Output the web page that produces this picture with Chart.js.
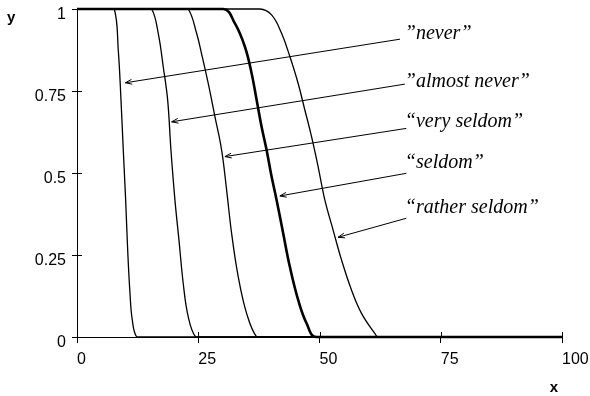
<!DOCTYPE html>
<html>
<head>
<meta charset="utf-8">
<script src="https://cdn.jsdelivr.net/npm/chart.js@4.4.1/dist/chart.umd.min.js"></script>
<style>
  html, body { margin: 0; padding: 0; background: #fff; }
  #wrap { width: 590px; height: 396px; position: relative; }
</style>
</head>
<body>
<div id="wrap"><canvas id="chart"></canvas></div>
<script>
// membership curves, one per frequency term (x = value, y = degree)
const neverX = [0, 6.2, 7.69, 8.51, 9.07, 9.54, 10.03, 10.45, 10.92, 11.4, 12.3, 13.8, 100];
const neverY = [1, 1, 1, 0.875, 0.723, 0.57, 0.418, 0.265, 0.134, 0.052, 0, 0, 0];

const almostNeverX = [0, 13.9, 15.39, 16.75, 17.78, 18.69, 19.37, 20.19, 21.02, 21.9, 22.93, 24.46, 26.0, 100];
const almostNeverY = [1, 1, 1, 0.926, 0.824, 0.723, 0.57, 0.418, 0.296, 0.164, 0.062, 0, 0, 0];

const verySeldomX = [0, 21.4, 22.93, 24.66, 25.82, 27.06, 28.44, 29.82, 30.85, 31.88, 33.24, 34.97, 37.03, 38.5, 100];
const verySeldomY = [1, 1, 1, 0.926, 0.855, 0.773, 0.672, 0.57, 0.448, 0.316, 0.184, 0.072, 0, 0, 0];

const seldomX = [0, 30.15, 32.56, 34.62, 36.0, 37.03, 38.06, 39.09, 40.12, 41.15, 42.51, 43.89, 45.6, 47.33, 49.39, 100];
const seldomY = [1, 1, 0.956, 0.885, 0.804, 0.723, 0.641, 0.57, 0.489, 0.418, 0.316, 0.214, 0.113, 0.042, 0, 0];

const ratherSeldomX = [0, 37.71, 40.12, 42.18, 43.89, 45.6, 46.98, 48.36, 49.72, 51.1, 52.81, 54.54, 56.6, 58.66, 61.4, 62.08, 100];
const ratherSeldomY = [1, 1, 0.982, 0.926, 0.855, 0.773, 0.692, 0.611, 0.519, 0.418, 0.326, 0.235, 0.143, 0.072, 0.011, 0, 0];

// labels with arrows pointing at each curve
const termLabels = ['\u201Dnever\u201D', '\u201Dalmost never\u201D', '\u201Cvery seldom\u201D', '\u201Cseldom\u201D', '\u201Crather seldom\u201D'];
const arrowTipX = [9.97, 19.51, 30.5, 41.83, 53.84];
const arrowTipY = [0.775, 0.656, 0.55, 0.43, 0.304];
const arrowTailX = [66.6, 67.6, 67.9, 67.9, 67.9];
const arrowTailY = [0.908, 0.771, 0.636, 0.499, 0.362];
const labelX = [67.6, 67.6, 67.6, 67.6, 67.6];
const labelY = [0.908, 0.762, 0.64, 0.514, 0.378];

const xTicks = [0, 25, 50, 75, 100];
const yTicks = [0, 0.25, 0.5, 0.75, 1];

function toPoints(xs, ys) {
    return xs.map((x, i) => ({ x: x, y: ys[i] }));
}

function curve(xs, ys, width) {
    return {
        data: toPoints(xs, ys),
        borderColor: '#000',
        borderWidth: width,
        pointRadius: 0,
        tension: 0.4,
        clip: false
    };
}

// arrows + italic term labels
const annotations = {
    id: 'annotations',
    afterDatasetsDraw(chart) {
        const { ctx, scales: { x, y } } = chart;
        ctx.save();
        ctx.strokeStyle = '#000';
        ctx.lineWidth = 1;
        termLabels.forEach((text, i) => {
            const x1 = x.getPixelForValue(arrowTailX[i]);
            const y1 = y.getPixelForValue(arrowTailY[i]);
            const x2 = x.getPixelForValue(arrowTipX[i]);
            const y2 = y.getPixelForValue(arrowTipY[i]);
            ctx.beginPath();
            ctx.moveTo(x1, y1);
            ctx.lineTo(x2, y2);
            ctx.stroke();
            const a = Math.atan2(y2 - y1, x2 - x1);
            const len = 7, spread = 0.35;
            ctx.beginPath();
            ctx.moveTo(x2 - len * Math.cos(a - spread), y2 - len * Math.sin(a - spread));
            ctx.lineTo(x2, y2);
            ctx.lineTo(x2 - len * Math.cos(a + spread), y2 - len * Math.sin(a + spread));
            ctx.stroke();

            ctx.fillStyle = '#000';
            ctx.font = 'italic 20px "Liberation Serif", "Times New Roman", serif';
            ctx.textAlign = 'left';
            ctx.textBaseline = 'alphabetic';
            ctx.fillText(text, x.getPixelForValue(labelX[i]), y.getPixelForValue(labelY[i]));
        });
        ctx.restore();
    }
};

// tick marks crossing into the plot, plus the x / y axis names
const axisDecor = {
    id: 'axisDecor',
    afterDraw(chart) {
        const { ctx, scales: { x, y } } = chart;
        const x0 = x.getPixelForValue(0);
        const y0 = y.getPixelForValue(0);
        ctx.save();
        ctx.strokeStyle = '#000';
        ctx.lineWidth = 1;
        ctx.beginPath();
        xTicks.slice(1).forEach(v => {
            const px = Math.round(x.getPixelForValue(v)) + 0.5;
            ctx.moveTo(px, y0);
            ctx.lineTo(px, y0 - 5);
        });
        yTicks.slice(1, 4).forEach(v => {
            const py = Math.round(y.getPixelForValue(v)) + 0.5;
            ctx.moveTo(x0, py);
            ctx.lineTo(x0 + 5, py);
        });
        ctx.stroke();

        ctx.fillStyle = '#000';
        ctx.font = 'bold 15px "Liberation Sans", Arial, sans-serif';
        ctx.textBaseline = 'alphabetic';
        ctx.textAlign = 'left';
        ctx.fillText('y', 7, 22);
        ctx.textAlign = 'center';
        ctx.fillText('x', x.getPixelForValue(100) - 8, 392);
        ctx.restore();
    }
};

const tickFont = { family: '"Liberation Sans", Arial, sans-serif', size: 16 };

new Chart(document.getElementById('chart'), {
    type: 'line',
    data: {
        datasets: [
            curve(neverX, neverY, 1.3),
            curve(almostNeverX, almostNeverY, 1.3),
            curve(verySeldomX, verySeldomY, 1.3),
            curve(seldomX, seldomY, 2.6),
            curve(ratherSeldomX, ratherSeldomY, 1.3)
        ]
    },
    options: {
        responsive: true,
        maintainAspectRatio: false,
        animation: false,
        layout: { padding: { left: 0, right: 28, top: 9, bottom: 0 } },
        plugins: {
            legend: { display: false },
            tooltip: { enabled: false }
        },
        scales: {
            x: {
                type: 'linear',
                min: 0,
                max: 100,
                afterFit: s => { s.height = 59; s.paddingLeft = 0; s.paddingRight = 0; },
                afterBuildTicks: s => { s.ticks = xTicks.map(v => ({ value: v })); },
                border: { color: '#000', width: 1 },
                grid: { drawOnChartArea: false, tickLength: 6, color: '#000' },
                ticks: { align: 'start', color: '#000', font: tickFont, padding: 7, maxRotation: 0,
                         callback: v => String(v) }
            },
            y: {
                type: 'linear',
                min: 0,
                max: 1,
                afterFit: s => { s.width = 77; s.paddingTop = 0; s.paddingBottom = 0; },
                afterBuildTicks: s => { s.ticks = yTicks.map(v => ({ value: v })); },
                border: { color: '#000', width: 1 },
                grid: { drawOnChartArea: false, tickLength: 5, color: '#000' },
                ticks: { color: '#000', font: tickFont, padding: 6, labelOffset: 6,
                         callback: v => String(v) }
            }
        }
    },
    plugins: [annotations, axisDecor]
});
</script>
</body>
</html>
